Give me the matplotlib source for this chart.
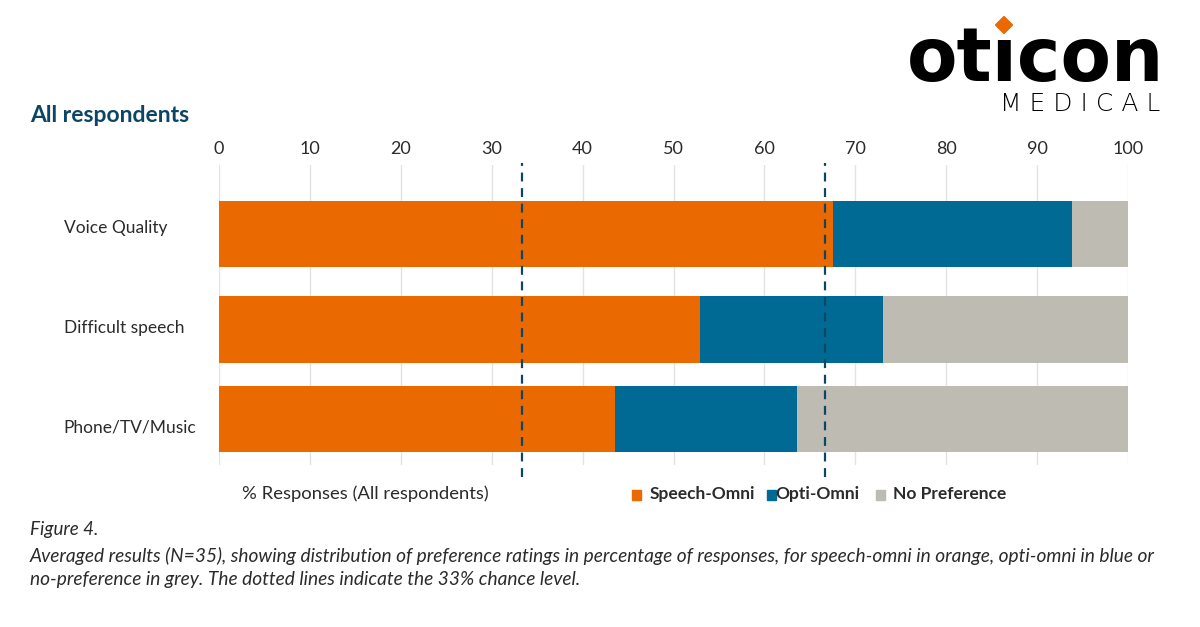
import matplotlib
matplotlib.use("Agg")
import matplotlib.pyplot as plt
import matplotlib.transforms as mtransforms
from matplotlib.patches import Rectangle

categories = ["Voice Quality", "Difficult speech", "Phone/TV/Music"]
speech_omni = [67.6, 52.9, 43.6]
opti_omni = [26.2, 20.1, 20.0]
no_pref = [6.2, 27.0, 36.4]
series_names = ["Speech-Omni", "Opti-Omni", "No Preference"]
chance_levels = [33.33, 66.67]
xticks = [0, 10, 20, 30, 40, 50, 60, 70, 80, 90, 100]

ORANGE = "#EA6900"
BLUE = "#006A94"
GREY = "#BEBBB3"
NAVY = "#0D4664"
TXT = "#2b2b2b"

plt.rcParams['font.family'] = ['Lato', 'DejaVu Sans']

fig = plt.figure(figsize=(12, 6.27), dpi=100)
W, H = 1200, 627

def fx(px):
    return px / W

def fy(py):
    return 1 - py / H

# axes from x 219..1128, y 165..465
ax = fig.add_axes([fx(219), fy(465), fx(1128) - fx(219), (465 - 165) / H])
ypos = [0, 1.03, 2]
label_offsets = [-0.065, -0.01, 0.09]
left = [0, 0, 0]
colors = [ORANGE, BLUE, GREY]
for vals, c, name in zip([speech_omni, opti_omni, no_pref], colors, series_names):
    ax.barh(ypos, vals, left=left, height=0.72, color=c, label=name, zorder=2)
    left = [l + v for l, v in zip(left, vals)]

ax.set_xlim(0, 100)
ax.set_ylim(2.5, -0.75)
ax.set_xticks(xticks)
ax.xaxis.tick_top()
ax.tick_params(axis='x', length=0, pad=6, labelsize=13, labelcolor=TXT)
ax.tick_params(axis='y', length=0)
ax.set_yticks([])
ax.grid(axis='x', color='#e3e3e3', linewidth=1, zorder=0)
for s in ax.spines.values():
    s.set_visible(False)

for c in chance_levels:
    ax.plot([c, c], [2.63, -0.77], color=NAVY, linestyle=(0, (4, 3)),
            linewidth=1.6, clip_on=False, zorder=3)

for y, off, cat in zip(ypos, label_offsets, categories):
    ax.text(-17.1, y + off, cat, ha='left', va='center', fontsize=12.5, color=TXT)

# Title
fig.text(fx(30), fy(116), "All respondents", fontsize=16.5, fontweight='bold',
         color=NAVY, ha='left', va='center')

# x label
fig.text(fx(242), fy(494), "% Responses (All respondents)", fontsize=13.3,
         color=TXT, ha='left', va='center')

# legend
lx = [632, 767, 876]
tx = [650, 775, 893]
for x0, t0, c, name in zip(lx, tx, colors, series_names):
    fig.patches.append(Rectangle((fx(x0), fy(500)), 9 / W, 10 / H, color=c,
                                 transform=fig.transFigure, figure=fig))
    fig.text(fx(t0), fy(494), name, fontsize=12.5, fontweight='bold', color=TXT,
             ha='left', va='center')

# caption
fig.text(fx(30), fy(530), "Figure 4.", fontsize=13.5, style='italic',
         color=TXT, ha='left', va='center')
fig.text(fx(30), fy(556),
         "Averaged results (N=35), showing distribution of preference ratings in percentage of responses, "
         "for speech-omni in orange, opti-omni in blue or",
         fontsize=13.8, style='italic', color=TXT, ha='left', va='center')
fig.text(fx(30), fy(580),
         "no-preference in grey. The dotted lines indicate the 33% chance level.",
         fontsize=13.8, style='italic', color=TXT, ha='left', va='center')

# logo
fig.text(fx(907), fy(81), "ot\u0131con", fontsize=53, fontweight='bold',
         family=['DejaVu Sans'], color='black', ha='left', va='baseline')
diamond = Rectangle((-6, -6), 12, 12, color=ORANGE)
diamond.set_transform(mtransforms.Affine2D().rotate_deg(45).translate(1004, 627 - 25))
fig.patches.append(diamond)
fig.text(fx(1160), fy(111), "M E D I C A L", fontsize=18, fontweight='light',
         family=['DejaVu Sans'], color='black', ha='right', va='baseline')

fig.savefig("out.png", dpi=100)
